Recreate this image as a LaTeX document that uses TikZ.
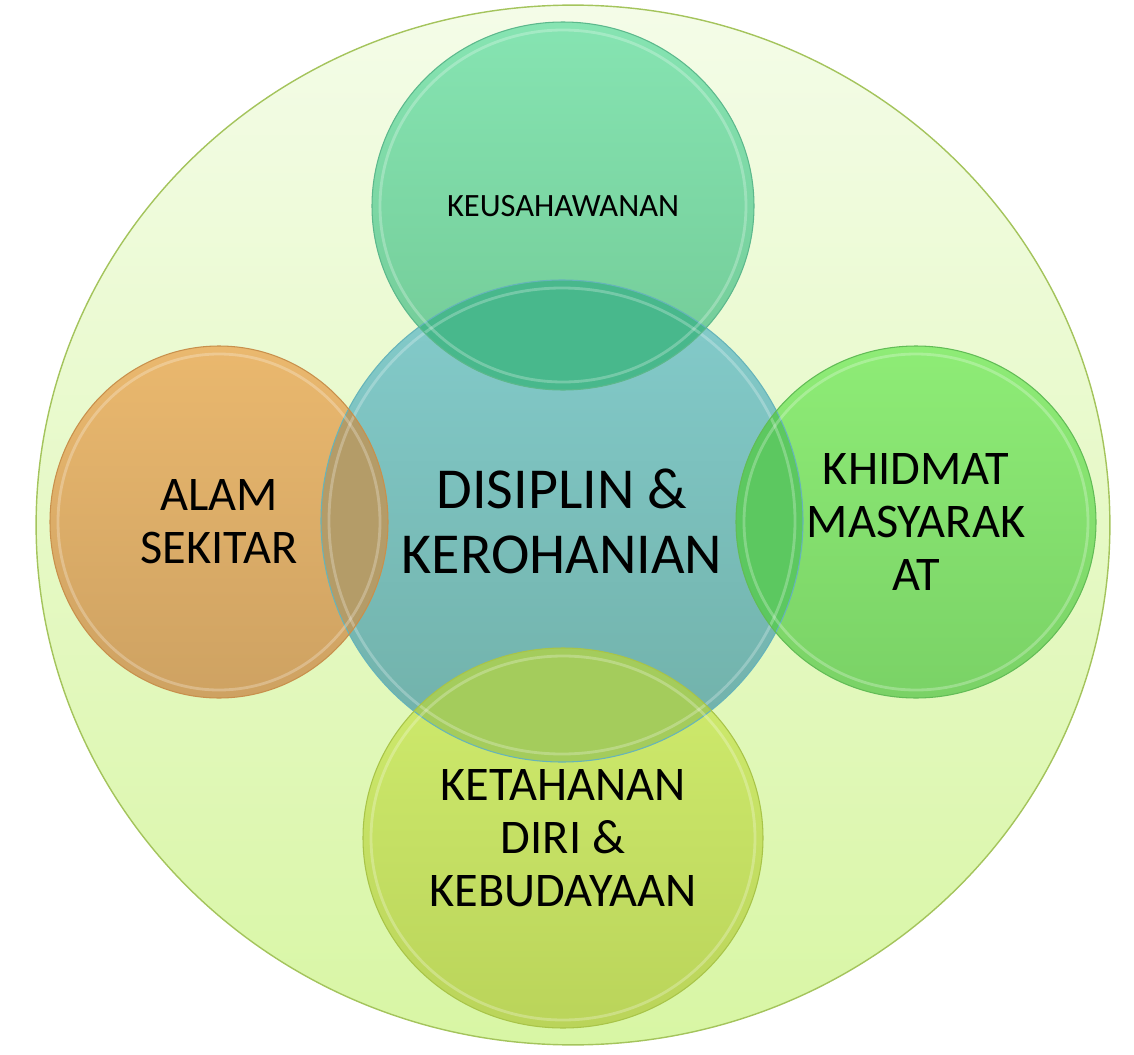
\documentclass[tikz,border=0pt]{standalone}
\usepackage{fontspec}
\setmainfont{Carlito}
\usepackage{xcolor}
\usetikzlibrary{shapes.geometric}
\definecolor{outA}{HTML}{F4FCE8}
\definecolor{outB}{HTML}{D8F6A4}
\definecolor{outE}{HTML}{A4C45C}
\definecolor{ctrA}{HTML}{84CCCC}
\definecolor{ctrB}{HTML}{70B0A8}
\definecolor{ctrE}{HTML}{66B4BA}
\definecolor{orgA}{HTML}{EAB86E}
\definecolor{orgB}{HTML}{CEA262}
\definecolor{orgE}{HTML}{C8904C}
\definecolor{grnA}{HTML}{8EEC76}
\definecolor{grnB}{HTML}{7AD266}
\definecolor{grnE}{HTML}{62BC56}
\definecolor{minA}{HTML}{86E4B2}
\definecolor{minB}{HTML}{72CA96}
\definecolor{minE}{HTML}{5CB88C}
\definecolor{limA}{HTML}{D0EC6E}
\definecolor{limB}{HTML}{BAD45A}
\definecolor{limE}{HTML}{A8C448}
\definecolor{lapOrg}{HTML}{B49C68}
\definecolor{lapGrn}{HTML}{5CC860}
\definecolor{lapMin}{HTML}{48B88C}
\definecolor{lapLim}{HTML}{A4CC5C}
\tikzset{
  bubble/.style={ellipse, inner sep=0pt, outer sep=0pt},
  rim/.style={white, line width=1.6pt, opacity=0.25},
  lbl/.style={align=center, text=black, inner sep=0pt},
  big/.style={lbl, font=\fontsize{33}{37}\selectfont},
  mid/.style={lbl, font=\fontsize{27.5}{30}\selectfont},
  small/.style={lbl, font=\fontsize{18.5}{21}\selectfont},
}
\newcommand{\bub}[6]{%
  \node[bubble, #6, minimum width={2*#4*0.02cm}, minimum height={2*#5*0.02cm}] (#1) at (#2,#3) {};}

\begin{document}
\begin{tikzpicture}[x=0.02cm,y=-0.02cm]
  \useasboundingbox (0,0) rectangle (1134,1055);
  % backdrop
  \node[bubble, top color=outA, bottom color=outB, draw=outE, line width=0.8pt,
        minimum width=21.48cm, minimum height=20.8cm] (outer) at (573,525) {};
  \bub{ctr}{562}{521}{241}{241}{top color=ctrA, bottom color=ctrB}
  \bub{env}{219}{522}{169}{176}{top color=orgA, bottom color=orgB}
  \bub{srv}{916}{522}{180}{176}{top color=grnA, bottom color=grnB}
  \bub{biz}{563}{206}{191}{184}{top color=minA, bottom color=minB}
  \bub{def}{563}{838}{200}{190}{top color=limA, bottom color=limB}
  % where they cross the middle one
  \begin{scope}
    \clip (ctr.center) ellipse [x radius=241, y radius=241];
    \fill[lapOrg] (env.center) ellipse [x radius=169, y radius=176];
    \fill[lapGrn] (srv.center) ellipse [x radius=180, y radius=176];
    \fill[lapMin] (biz.center) ellipse [x radius=191, y radius=184];
    \fill[lapLim] (def.center) ellipse [x radius=200, y radius=190];
  \end{scope}
  % edges and rims
  \foreach \n/\rx/\ry/\e in {ctr/241/241/ctrE, env/169/176/orgE, srv/180/176/grnE,
                             biz/191/184/minE, def/200/190/limE} {
    \draw[\e, line width=0.6pt] (\n.center) ellipse [x radius=\rx, y radius=\ry];
    \draw[rim] (\n.center) ellipse [x radius=\rx-8, y radius=\ry-8];
  }
  % labels
  \node[big] (tCtr) at (ctr.center) {DISIPLIN \&\\KEROHANIAN};
  \node[small] (tBiz) at (biz.center) {KEUSAHAWANAN};
  \node[mid] (tEnv) at (env.center) {ALAM\\SEKITAR};
  \node[mid] (tSrv) at (srv.center) {KHIDMAT\\MASYARAK\\AT};
  \node[mid] (tDef) at (def.center) {KETAHANAN\\DIRI \&\\KEBUDAYAAN};
\end{tikzpicture}
\end{document}
